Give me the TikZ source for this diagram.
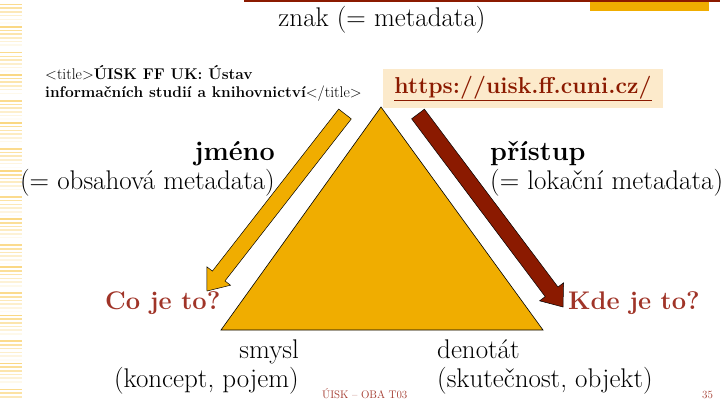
\documentclass[tikz,border=0pt]{standalone}
\usepackage{fontspec}
\usetikzlibrary{calc}

\definecolor{zlata}{HTML}{F0AD00}
\definecolor{cihla}{HTML}{8B1A00}
\definecolor{rudy}{HTML}{A03428}
\definecolor{krem}{HTML}{FCEACB}
\definecolor{pruh}{HTML}{FAD57A}

% fat block arrow: tail, tip, style
\newcommand{\fatarrow}[3]{%
  \coordinate (hb) at ($(#2)!19pt!(#1)$);
  \draw[#3] ($(#1)!8pt!90:(#2)$) -- ($(hb)!8pt!90:(#2)$) -- ($(hb)!15pt!90:(#2)$) -- (#2)
    -- ($(hb)!15pt!-90:(#2)$) -- ($(hb)!8pt!-90:(#2)$) -- ($(#1)!8pt!-90:(#2)$) -- cycle;
}

\begin{document}
\begin{tikzpicture}[
    x=1pt, y=-1pt,
    big/.style={inner sep=0pt, font=\fontsize{27}{29}\selectfont},
    small/.style={inner sep=0pt, font=\fontsize{15.5}{18}\selectfont},
    ask/.style={inner sep=0pt, text=rudy, font=\fontsize{25.5}{29}\selectfont\bfseries},
    tri/.style={draw=black, line width=0.6pt, fill=zlata, line join=miter},
    arr/.style={draw=black, line width=0.5pt}
  ]
  \useasboundingbox (0,0) rectangle (726,399);

  % slide decoration
  \foreach \i in {0,...,107} {
    \pgfmathsetmacro\op{mod(\i*37,13)/13}
    \fill[pruh, opacity=\op] (0,\i*3.7) rectangle (22,\i*3.7+1.6);
  }
  \fill[cihla] (244,0) rectangle (720,2);
  \fill[zlata] (590,2) rectangle (709,11);

  \node[big] (znak) at (382,20) {znak (= metadata)};
  \node[small, anchor=north west, align=left] (title) at (45,65)
    {\textless title\textgreater\textbf{ÚISK FF UK: Ústav}\\
     \textbf{informačních studií a knihovnictví}\textless/title\textgreater};
  \node[fill=krem, minimum width=280pt, minimum height=39pt, text=cihla,
        font=\fontsize{23}{25}\selectfont\bfseries] (url) at (523,88.5)
    {\underline{https://uisk.ff.cuni.cz/}};

  % triangle
  \coordinate (top) at (381,107);
  \coordinate (sl) at (221,330);
  \coordinate (dr) at (543,330);
  \draw[tri] (top) -- (sl) -- (dr) -- cycle;

  % arrows
  \coordinate (jtail) at (345,114);
  \coordinate (jtip) at (207,291);
  \coordinate (ptail) at (418,114);
  \coordinate (ptip) at (563,307);
  \fatarrow{jtail}{jtip}{arr, fill=zlata}
  \fatarrow{ptail}{ptip}{arr, fill=cihla}

  \node[big, anchor=north east, align=right] (jmeno) at (275,141)
    {\textbf{jméno}\\(= obsahová metadata)};
  \node[big, anchor=north west, align=left] (pristup) at (490,141)
    {\textbf{přístup}\\(= lokační metadata)};

  \node[ask, anchor=base west] (co) at (105,309) {Co je to?};
  \node[ask, anchor=base west] (kde) at (568,309) {Kde je to?};

  \node[big, anchor=north east, align=right] (smysl) at (299,340)
    {smysl\\(koncept, pojem)};
  \node[big, anchor=north west, align=left] (denotat) at (437,340)
    {denotát\\(skutečnost, objekt)};

  \node[inner sep=0pt, text=rudy, font=\fontsize{11}{13}\selectfont, anchor=base west] (pata) at (322,398) {ÚISK – OBA T03};
  \node[inner sep=0pt, text=rudy, font=\fontsize{11}{13}\selectfont, anchor=base west] (cislo) at (702,398) {35};
\end{tikzpicture}
\end{document}
